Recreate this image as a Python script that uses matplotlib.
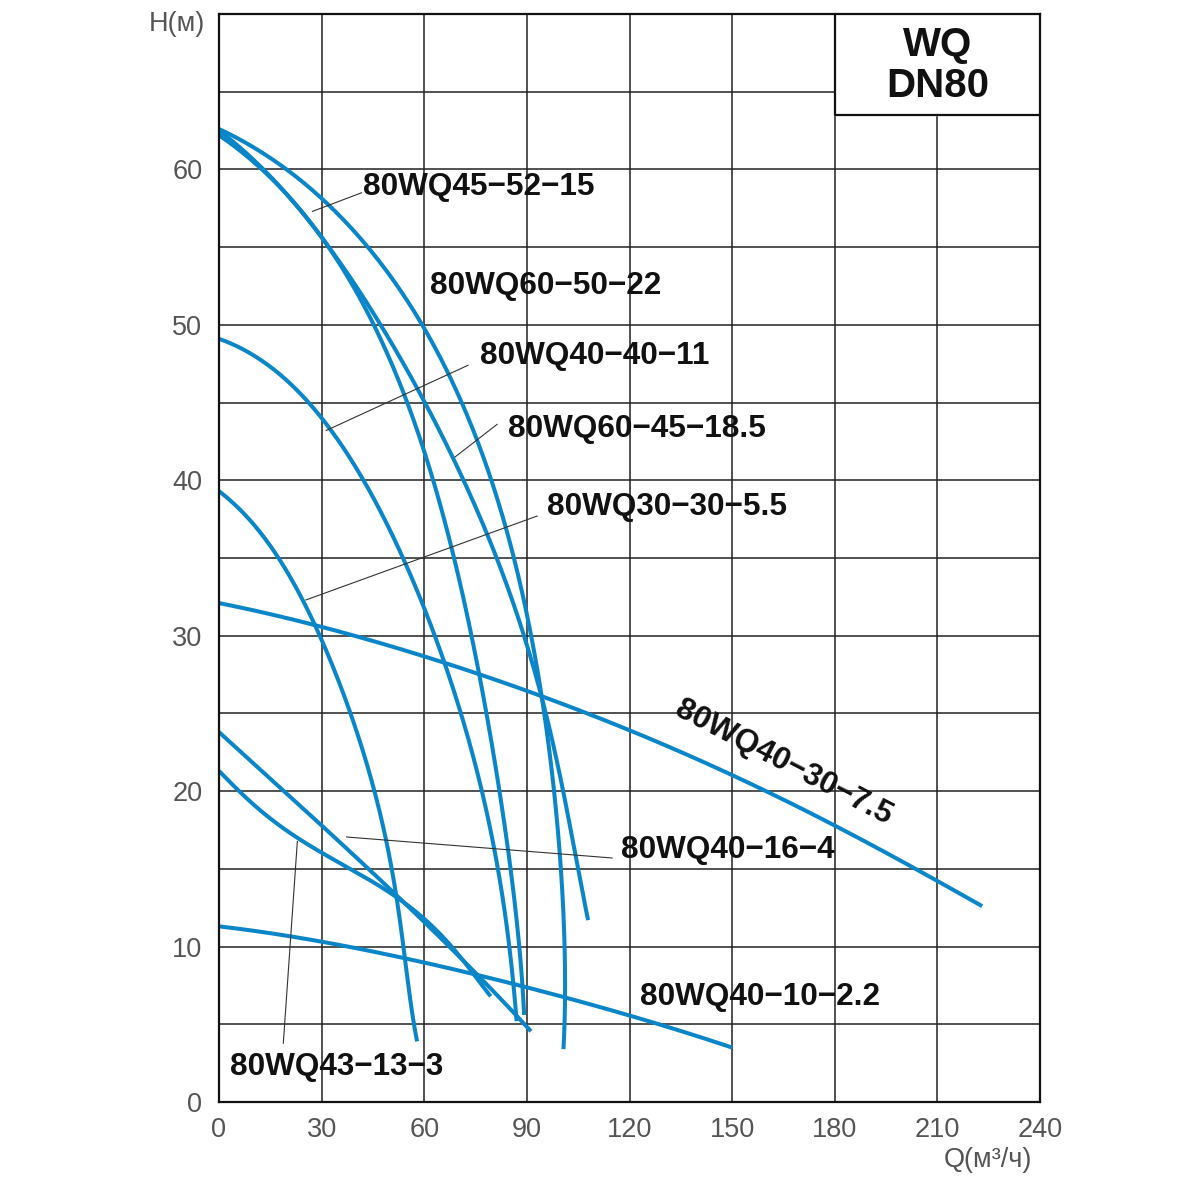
import numpy as np
import matplotlib
matplotlib.use("Agg")
import matplotlib.pyplot as plt

plt.rcParams['font.family'] = ['Liberation Sans', 'DejaVu Sans']

# ---------------- data ----------------
q_60_50_22 = [0, 10, 18.5, 30, 44, 50, 60, 66.6, 74.4, 80.2, 86.1, 89.5, 94.7, 96.8, 99.2, 100.5, 100.8, 100.7]
h_60_50_22 = [62.6, 61.6, 60.05, 58.0, 55.0, 53.1, 50.0, 47.3, 43.1, 38.8, 35.0, 32.3, 26.1, 22.0, 17.5, 13.0, 8.5, 3.4]

q_60_45_18_5 = [0, 10, 20, 30, 40, 48, 59.8, 68.5, 76.3, 83.5, 94.7, 98.7, 102.6, 106.0, 107.9]
h_60_45_18_5 = [62.5, 60.8, 58.4, 55.6, 52.3, 49.7, 45.2, 41.6, 37.9, 33.0, 26.1, 22.0, 17.5, 14.1, 11.7]

q_45_52_15 = [0, 10, 20, 30, 40, 47, 54.4, 59.7, 66.6, 71.4, 76.5, 82.3, 87.1, 89.2]
h_45_52_15 = [62.2, 60.6, 58.2, 55.5, 52.2, 49.8, 45.2, 41.8, 36.6, 32.3, 27.5, 19.8, 10.8, 5.6]

q_40_40_11 = [0, 15, 31.3, 47.1, 59.3, 65.8, 70.5, 77.4, 80.9, 85.2, 87.0]
h_40_40_11 = [49.1, 47.6, 43.2, 38.3, 32.3, 28.2, 25.0, 19.8, 15.4, 9.7, 5.2]

q_30_30_5_5 = [0, 15.8, 28.4, 36.8, 45.5, 50.0, 54.4, 57.9]
h_30_30_5_5 = [39.3, 35.5, 30.6, 25.9, 20.0, 15.6, 9.1, 3.9]

q_40_30_7_5 = [0, 30, 53, 94.7, 125.8, 150, 180, 223.1]
h_40_30_7_5 = [32.1, 30.6, 29.1, 26.1, 23.4, 21.0, 17.8, 12.6]

q_40_16_4 = [0, 30, 52.3, 75.5, 91.2]
h_40_16_4 = [23.8, 17.8, 13.2, 8.2, 4.55]

q_43_13_3 = [0, 10, 23.2, 36.8, 52.3, 59, 67, 75.5, 79.4]
h_43_13_3 = [21.3, 19.2, 16.9, 15.2, 13.2, 11.95, 10.1, 8.1, 6.8]

q_40_10_2_2 = [0, 30, 60, 90, 125.8, 150]
h_40_10_2_2 = [11.3, 10.3, 9.0, 7.35, 5.2, 3.5]

curve_q = [q_60_50_22, q_60_45_18_5, q_45_52_15, q_40_40_11, q_30_30_5_5,
           q_40_30_7_5, q_40_16_4, q_43_13_3, q_40_10_2_2]
curve_h = [h_60_50_22, h_60_45_18_5, h_45_52_15, h_40_40_11, h_30_30_5_5,
           h_40_30_7_5, h_40_16_4, h_43_13_3, h_40_10_2_2]

label_texts = ["80WQ45−52−15", "80WQ60−50−22", "80WQ40−40−11", "80WQ60−45−18.5",
               "80WQ30−30−5.5", "80WQ40−16−4", "80WQ43−13−3", "80WQ40−10−2.2"]
label_q = [42.1, 61.7, 76.3, 84.5, 95.9, 117.5, 3.2, 123.1]
label_h = [58.9, 52.5, 48.0, 43.3, 38.3, 16.2, 2.25, 6.76]

# leader lines: (curve point) -> (label end)
leader_q0 = [27.3, 31.3, 69.0, 25.4, 37.3, 22.9]
leader_h0 = [57.3, 43.2, 41.5, 32.3, 17.05, 16.76]
leader_q1 = [41.7, 72.8, 81.3, 93.0, 114.9, 18.8]
leader_h1 = [58.5, 47.4, 43.6, 37.7, 15.7, 3.78]

rot_label = "80WQ40−30−7.5"
rot_q, rot_h, rot_angle = 165.0, 21.8, -27.3

x_ticks = [0, 30, 60, 90, 120, 150, 180, 210, 240]
y_ticks = [0, 10, 20, 30, 40, 50, 60]
box_lines = ["WQ", "DN80"]

# ---------------- helpers ----------------
SX, SY = 3.42, 15.53  # approx px per data unit, used for smoothing


def smooth(q, h, n=400):
    """Smooth parametric least-squares curve through the read points."""
    q = np.asarray(q, float)
    h = np.asarray(h, float)
    P = np.column_stack([q * SX, h * SY])
    d = np.r_[0, np.cumsum(np.linalg.norm(np.diff(P, axis=0), axis=1))]
    t = d / d[-1]
    deg = int(max(2, min(len(q) - 2, 5)))
    w = np.ones(len(q))
    w[0] = w[-1] = 20.0
    cq = np.polyfit(t, q, deg, w=w)
    ch = np.polyfit(t, h, deg, w=w)
    tt = np.linspace(0, 1, n)
    return np.polyval(cq, tt), np.polyval(ch, tt)


# ---------------- figure ----------------
fig = plt.figure(figsize=(12, 12), dpi=100)
ax = fig.add_axes([219 / 1200, 1 - 1102 / 1200, (1040 - 219) / 1200, (1102 - 14) / 1200])
ax.set_xlim(0, 240)
ax.set_ylim(0, 70)

for xv in range(30, 240, 30):
    ax.axvline(xv, color='#222222', lw=1.1, zorder=1)
for yv in range(5, 70, 5):
    ax.axhline(yv, color='#222222', lw=1.1, zorder=1)

blue = '#0a86c8'
for q, h in zip(curve_q, curve_h):
    xs, ys = smooth(q, h)
    ax.plot(xs, ys, color=blue, lw=2.9, solid_capstyle='butt', zorder=3)

for a, b, c, d in zip(leader_q0, leader_h0, leader_q1, leader_h1):
    ax.plot([a, c], [b, d], color='#333333', lw=0.8, zorder=4)

for t, x, y in zip(label_texts, label_q, label_h):
    ax.text(x, y, t, fontsize=22.7, fontweight='bold', color='#111111',
            ha='left', va='center', zorder=5)

ax.text(rot_q, rot_h, rot_label, fontsize=22.7, fontweight='bold', color='#111111',
        ha='center', va='center', rotation=rot_angle, rotation_mode='anchor', zorder=5)

# title box
ax.fill_between([180, 240], 63.5, 70, color='white', zorder=6)
ax.plot([180, 180, 240], [70, 63.5, 63.5], color='#111111', lw=1.6, zorder=7)
ax.text(210, 66.75 + 1.25, box_lines[0], fontsize=29, fontweight='bold', color='#111111',
        ha='center', va='center', zorder=8)
ax.text(210, 66.75 - 1.4, box_lines[1], fontsize=29, fontweight='bold', color='#111111',
        ha='center', va='center', zorder=8)

ax.set_xticks(x_ticks)
ax.set_yticks(y_ticks)
ax.set_xticklabels([str(v) for v in x_ticks])
ax.set_yticklabels([str(v) for v in y_ticks])
ax.tick_params(length=0, labelsize=19.5, labelcolor='#555555')
ax.tick_params(axis='x', pad=11)
ax.tick_params(axis='y', pad=12)
for s in ax.spines.values():
    s.set_linewidth(1.6)
    s.set_color('#111111')
    s.set_zorder(9)

fig.text(205 / 1200, 1 - 24 / 1200, "H(м)", fontsize=19.5, color='#555555', ha='right', va='center')
fig.text(1032 / 1200, 1 - 1160 / 1200, "Q(м³/ч)", fontsize=19.5, color='#555555', ha='right', va='center')

fig.savefig("out.png", dpi=100, facecolor='white')
